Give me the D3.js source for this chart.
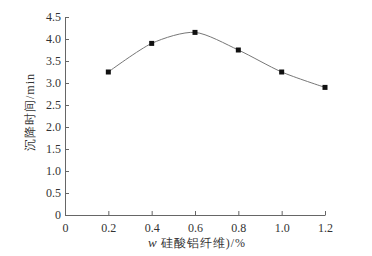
<!DOCTYPE html>
<html>
<head>
<meta charset="utf-8">
<script src="https://cdn.jsdelivr.net/npm/d3@7"></script>
<style>
  body { margin: 0; background: #fff; }
  text { font-family: "Liberation Serif", "Times New Roman", serif; fill: #333; }
</style>
</head>
<body>
<div class="chart"></div>
<script>
var svgWidth = 372;
var svgHeight = 256;

var margin = { top: 17, right: 47, bottom: 41, left: 65 };
var width = svgWidth - margin.left - margin.right;
var height = svgHeight - margin.top - margin.bottom;

// data
var fiberContent = [0.2, 0.4, 0.6, 0.8, 1.0, 1.2];
var settleTime = [3.25, 3.9, 4.15, 3.75, 3.25, 2.9];
var xTicks = [0, 0.2, 0.4, 0.6, 0.8, 1.0, 1.2];
var yTicks = [0, 0.5, 1.0, 1.5, 2.0, 2.5, 3.0, 3.5, 4.0, 4.5];

var data = fiberContent.map((x, i) => ({ x: x, y: settleTime[i] }));

var svg = d3.select(".chart").append("svg")
  .attr("width", svgWidth)
  .attr("height", svgHeight);

var chartGroup = svg.append("g")
  .attr("transform", `translate(${margin.left}, ${margin.top})`);

var xScale = d3.scaleLinear().domain([0, 1.2]).range([0, width]);
var yScale = d3.scaleLinear().domain([0, 4.5]).range([height, 0]);

var fmt = d => d === 0 ? "0" : d3.format(".1f")(d);

// axes, ticks pointing inward
var xAxis = chartGroup.append("g")
  .attr("transform", `translate(0,${height})`)
  .call(d3.axisBottom(xScale).tickValues(xTicks).tickFormat(fmt).tickSizeInner(-4).tickSizeOuter(0).tickPadding(6));
var yAxis = chartGroup.append("g")
  .call(d3.axisLeft(yScale).tickValues(yTicks).tickFormat(fmt).tickSizeInner(-4).tickSizeOuter(0).tickPadding(4));

[xAxis, yAxis].forEach(a => {
  a.select(".domain").attr("stroke", "#666");
  a.selectAll(".tick line").attr("stroke", "#666");
  a.selectAll("text").style("font-size", "12px").attr("fill", "#333");
});
xAxis.selectAll("text").attr("dy", "0.9em");

// smooth line
chartGroup.append("path")
  .datum(data)
  .attr("fill", "none")
  .attr("stroke", "#777")
  .attr("stroke-width", 1)
  .attr("d", d3.line().curve(d3.curveCardinal.tension(0.2))
    .x(d => xScale(d.x))
    .y(d => yScale(d.y)));

// square markers
chartGroup.selectAll("rect.pt")
  .data(data)
  .enter()
  .append("rect")
  .attr("class", "pt")
  .attr("x", d => xScale(d.x) - 2.5)
  .attr("y", d => yScale(d.y) - 2.5)
  .attr("width", 5)
  .attr("height", 5)
  .attr("fill", "#111");

// axis labels
chartGroup.append("text")
  .attr("transform", `translate(${-31}, ${height / 2 - 4}) rotate(-90)`)
  .style("text-anchor", "middle")
  .style("font-size", "12px")
  .style("letter-spacing", "1px")
  .text("沉降时间/min");

var xl = chartGroup.append("text")
  .attr("x", width / 2 + 2)
  .attr("y", height + 32)
  .style("text-anchor", "middle")
  .style("font-size", "12px");
xl.append("tspan").style("font-style", "italic").style("font-size", "13px").text("w");
xl.append("tspan").style("letter-spacing", "1px").text(" 硅酸铝纤维)/%");
</script>
</body>
</html>
